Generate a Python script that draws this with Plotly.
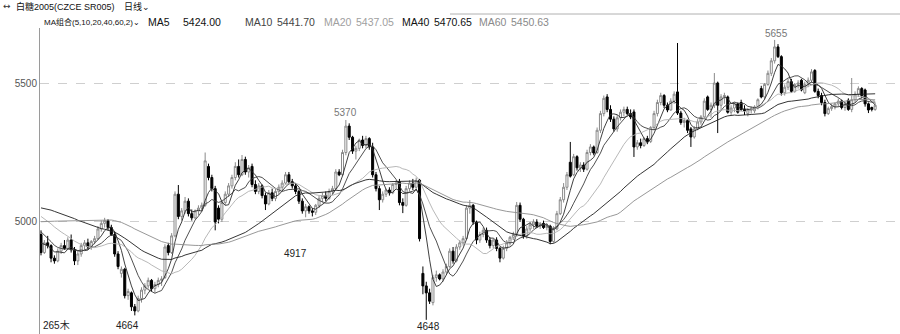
import plotly.graph_objects as go
import pandas as pd

# closes before the visible window (only used for the moving averages)
pre_close = [4850, 4860, 4845, 4870, 4880, 4875, 4890, 4900, 4885, 4870,
             4880, 4895, 4910, 4905, 4920, 4915, 4930, 4925, 4940, 4950,
             4980, 5000, 5020, 5010, 5040, 5060, 5050, 5075, 5090, 5085,
             5100, 5110, 5095, 5120, 5130, 5115, 5125, 5105, 5110, 5090,
             5100, 5085, 5070, 5090, 5080, 5095, 5075, 5060, 5080, 5070,
             5050, 5030, 5020, 5010, 4995, 4970, 4950, 4935, 4920, 4925]

opens = [4955, 4890, 4925, 4915, 4870, 4860, 4895, 4915, 4905, 4935,
         4900, 4860, 4885, 4915, 4925, 4910, 4930, 4940, 4975, 4995,
         5005, 4980, 4955, 4885, 4815, 4830, 4735, 4745, 4695, 4680,
         4725, 4755, 4770, 4790, 4760, 4775, 4790, 4800, 4915, 4890,
         4950, 5100, 5020, 5040, 5075, 5030, 5015, 5040, 5050, 5060,
         5200, 5160, 5120, 5050, 5010, 5070, 5100, 5130, 5160, 5200,
         5170, 5225, 5180, 5200, 5135, 5110, 5130, 5095, 5065, 5105,
         5085, 5110, 5125, 5140, 5170, 5145, 5130, 5110, 5075, 5040,
         5055, 5040, 5035, 5060, 5085, 5095, 5085, 5110, 5120, 5180,
         5170, 5250, 5345, 5305, 5255, 5265, 5295, 5275, 5300, 5270,
         5170, 5120, 5080, 5100, 5115, 5105, 5135, 5145, 5070, 5060,
         5120, 5140, 5125, 5150, 4815, 4770, 4745, 4710, 4800, 4810,
         4795, 4820, 4840, 4895, 4860, 4910, 4925, 4940, 5050, 5060,
         5000, 4935, 4955, 4970, 4935, 4915, 4935, 4905, 4870, 4905,
         4925, 4945, 4955, 5060, 5010, 4950, 4975, 4990, 5000, 4985,
         4995, 4980, 4985, 4930, 4975, 5030, 5080, 5125, 5215, 5170,
         5235, 5195, 5205, 5190, 5250, 5270, 5250, 5330, 5390, 5450,
         5405, 5370, 5335, 5375, 5395, 5405, 5390, 5396, 5270, 5285,
         5275, 5300, 5290, 5340, 5390, 5430, 5455, 5420, 5403, 5435,
         5468, 5392, 5358, 5365, 5335, 5306, 5335, 5360, 5378, 5450,
         5405, 5420, 5500, 5420, 5450, 5450, 5395, 5410, 5425, 5430,
         5405, 5390, 5405, 5400, 5414, 5480, 5450, 5495, 5535, 5580,
         5630, 5595, 5465, 5485, 5505, 5470, 5495, 5510, 5465, 5495,
         5510, 5545, 5470, 5455, 5430, 5390, 5408, 5415, 5425, 5435,
         5412, 5438, 5405, 5440, 5460, 5480, 5475, 5425, 5412, 5405]
highs = [4970, 4935, 4950, 4920, 4880, 4905, 4925, 4935, 4945, 4955,
         4910, 4895, 4925, 4935, 4940, 4935, 4950, 4985, 5005, 5015,
         5010, 4990, 4965, 4895, 4840, 4835, 4760, 4750, 4705, 4735,
         4765, 4780, 4800, 4795, 4785, 4800, 4805, 4920, 4925, 4960,
         5110, 5133, 5050, 5090, 5085, 5045, 5045, 5060, 5070, 5250,
         5210, 5170, 5130, 5060, 5080, 5110, 5140, 5170, 5215, 5225,
         5241, 5235, 5205, 5210, 5150, 5140, 5135, 5105, 5115, 5120,
         5120, 5135, 5150, 5180, 5180, 5155, 5140, 5115, 5085, 5065,
         5060, 5050, 5065, 5095, 5105, 5110, 5120, 5130, 5190, 5190,
         5260, 5367, 5355, 5310, 5275, 5300, 5310, 5310, 5305, 5285,
         5180, 5130, 5110, 5120, 5125, 5140, 5150, 5155, 5085, 5130,
         5150, 5155, 5160, 5155, 4840, 4785, 4760, 4810, 4825, 4815,
         4830, 4850, 4905, 4910, 4920, 4935, 4950, 5060, 5079, 5065,
         5005, 4965, 4980, 4980, 4945, 4940, 4945, 4910, 4915, 4935,
         4950, 4965, 5072, 5070, 5015, 4985, 5000, 5010, 5010, 5000,
         5005, 4995, 4990, 4985, 5040, 5090, 5140, 5180, 5288, 5245,
         5240, 5215, 5215, 5260, 5280, 5275, 5340, 5400, 5455, 5460,
         5420, 5380, 5385, 5405, 5415, 5415, 5405, 5405, 5295, 5300,
         5305, 5310, 5345, 5400, 5440, 5465, 5460, 5430, 5445, 5470,
         5644, 5400, 5375, 5370, 5342, 5345, 5370, 5385, 5445, 5455,
         5430, 5536, 5505, 5460, 5465, 5455, 5420, 5430, 5430, 5440,
         5420, 5410, 5415, 5420, 5445, 5490, 5500, 5545, 5590, 5655,
         5640, 5600, 5495, 5515, 5515, 5500, 5510, 5515, 5505, 5520,
         5550, 5550, 5480, 5465, 5440, 5415, 5425, 5430, 5445, 5440,
         5430, 5445, 5518, 5470, 5488, 5485, 5480, 5430, 5415, 5430]
lows = [4880, 4885, 4905, 4855, 4850, 4855, 4885, 4900, 4900, 4890,
        4845, 4845, 4875, 4900, 4900, 4900, 4920, 4935, 4965, 4980,
        4970, 4950, 4875, 4830, 4800, 4725, 4720, 4680, 4664, 4675,
        4710, 4740, 4760, 4750, 4745, 4765, 4770, 4795, 4880, 4885,
        4945, 5010, 5005, 5030, 5020, 5005, 5010, 5025, 5040, 5055,
        5150, 5110, 4970, 4995, 5000, 5060, 5090, 5120, 5150, 5160,
        5165, 5170, 5160, 5125, 5100, 5100, 5085, 5043, 5060, 5075,
        5075, 5100, 5115, 5135, 5135, 5120, 5100, 5065, 5030, 5017,
        5030, 5020, 5025, 5050, 5070, 5075, 5080, 5100, 5115, 5165,
        5165, 5240, 5295, 5245, 5225, 5255, 5265, 5265, 5260, 5160,
        5110, 5043, 5070, 5090, 5095, 5100, 5120, 5060, 5032, 5055,
        5110, 5115, 5120, 4930, 4740, 4648, 4705, 4700, 4785, 4790,
        4785, 4810, 4835, 4850, 4855, 4900, 4915, 4935, 5030, 4990,
        4920, 4925, 4945, 4925, 4905, 4905, 4895, 4855, 4865, 4895,
        4915, 4935, 4950, 5000, 4940, 4940, 4965, 4975, 4980, 4975,
        4975, 4970, 4920, 4925, 4970, 5025, 5070, 5115, 5160, 5165,
        5185, 5180, 5180, 5185, 5240, 5240, 5245, 5320, 5380, 5395,
        5360, 5325, 5325, 5365, 5380, 5385, 5370, 5234, 5260, 5265,
        5270, 5280, 5284, 5330, 5380, 5420, 5410, 5395, 5400, 5425,
        5385, 5350, 5340, 5320, 5270, 5300, 5330, 5350, 5370, 5400,
        5375, 5410, 5320, 5400, 5425, 5390, 5385, 5395, 5390, 5400,
        5385, 5380, 5390, 5392, 5405, 5445, 5440, 5490, 5525, 5570,
        5590, 5455, 5455, 5475, 5465, 5465, 5480, 5470, 5460, 5485,
        5500, 5465, 5445, 5420, 5380, 5385, 5400, 5405, 5415, 5405,
        5400, 5400, 5395, 5430, 5450, 5445, 5415, 5392, 5398, 5400]
closes = [4890, 4925, 4915, 4870, 4860, 4895, 4915, 4905, 4935, 4900,
          4860, 4885, 4915, 4925, 4910, 4930, 4940, 4975, 4995, 5005,
          4980, 4955, 4885, 4840, 4830, 4735, 4750, 4695, 4680, 4725,
          4755, 4770, 4790, 4760, 4775, 4790, 4795, 4910, 4890, 4950,
          5100, 5020, 5040, 5075, 5030, 5015, 5040, 5050, 5060, 5220,
          5160, 5120, 5000, 5010, 5070, 5100, 5130, 5160, 5200, 5170,
          5225, 5180, 5195, 5135, 5110, 5130, 5095, 5065, 5105, 5085,
          5110, 5125, 5140, 5170, 5145, 5130, 5110, 5075, 5040, 5055,
          5040, 5035, 5060, 5085, 5095, 5085, 5110, 5120, 5180, 5170,
          5250, 5345, 5305, 5255, 5265, 5295, 5275, 5300, 5270, 5170,
          5120, 5080, 5100, 5115, 5105, 5135, 5140, 5070, 5060, 5120,
          5140, 5125, 5150, 4940, 4770, 4745, 4715, 4800, 4810, 4795,
          4820, 4840, 4895, 4860, 4910, 4925, 4940, 5050, 5060, 5000,
          4935, 4955, 4970, 4935, 4915, 4935, 4905, 4870, 4905, 4925,
          4945, 4955, 5060, 5010, 4950, 4975, 4990, 5000, 4985, 4995,
          4980, 4985, 4930, 4975, 5030, 5080, 5125, 5170, 5165, 5235,
          5195, 5205, 5190, 5250, 5270, 5248, 5330, 5390, 5445, 5405,
          5370, 5335, 5375, 5395, 5405, 5390, 5378, 5270, 5285, 5275,
          5300, 5290, 5340, 5390, 5430, 5455, 5420, 5403, 5435, 5460,
          5392, 5358, 5365, 5330, 5306, 5335, 5360, 5378, 5435, 5405,
          5420, 5500, 5420, 5450, 5455, 5395, 5410, 5425, 5395, 5405,
          5400, 5405, 5410, 5414, 5440, 5450, 5495, 5535, 5580, 5630,
          5595, 5465, 5485, 5505, 5470, 5495, 5500, 5475, 5495, 5510,
          5540, 5470, 5455, 5430, 5390, 5408, 5415, 5425, 5435, 5412,
          5425, 5405, 5440, 5460, 5480, 5455, 5425, 5403, 5405, 5420]

ma_periods = [5, 10, 20, 40, 60]
ma_colors = ["#2a2a2a", "#3c3c3c", "#b0b0b0", "#1e1e1e", "#8c8c8c"]
ma_names = ["MA5", "MA10", "MA20", "MA40", "MA60"]
ma_values = ["5424.00", "5441.70", "5437.05", "5470.65", "5450.63"]
ma_label_colors = ["#111111", "#444444", "#a0a0a0", "#111111", "#8a8a8a"]
ma_name_x = [146, 243, 322, 400, 477]
ma_value_x = [181, 275, 354, 432, 509]

price_ticks = [5000, 5500]
extreme_labels = [("5655", 776, 33, "#777777"), ("5370", 345, 112, "#777777"),
                  ("4917", 295, 253, "#222222"), ("4664", 127, 325, "#222222"),
                  ("4648", 428, 326, "#222222"), ("265木", 56, 325, "#222222")]

n = len(closes)
xs = list(range(n))
all_close = pd.Series(pre_close + closes, dtype=float)

W, H = 900, 334
L, T = 40, 28
STEP = 3.35          # pixels between candles
FIRST = 41           # pixel of the first candle
FONT = "Liberation Sans, Noto Sans CJK SC"


def px(xp):
    return (xp - L) / (W - L)


def py(yp):
    return (H - yp) / (H - T)


fig = go.Figure()
fig.add_trace(go.Candlestick(
    x=xs, open=opens, high=highs, low=lows, close=closes,
    increasing=dict(line=dict(color="#8a8a8a", width=1), fillcolor="#ffffff"),
    decreasing=dict(line=dict(color="#000000", width=1), fillcolor="#000000"),
    whiskerwidth=0, showlegend=False, hoverinfo="skip"))

for p, c in zip(ma_periods, ma_colors):
    vals = all_close.rolling(p).mean().iloc[len(pre_close):].to_numpy()
    fig.add_trace(go.Scatter(x=xs, y=vals, mode="lines",
                             line=dict(color=c, width=0.9), showlegend=False,
                             hoverinfo="skip"))

ann = []


def txt(t, xp, yp, size, color, anchor="left", family=FONT):
    ann.append(dict(x=px(xp), y=py(yp), xref="paper", yref="paper", text=t,
                    showarrow=False, xanchor=anchor, yanchor="middle",
                    font=dict(family=family, size=size, color=color)))


txt("↔", 1, 6, 9, "#333", family="DejaVu Sans")
txt("白糖2005(CZCE SR005)", 14, 6, 9, "#111")
txt("日线⌄", 122, 6, 9, "#111")
txt("MA组合(5,10,20,40,60,2)⌄", 42, 22, 8, "#111")
for nm, v, c, x1, x2 in zip(ma_names, ma_values, ma_label_colors, ma_name_x, ma_value_x):
    txt(nm, x1, 22, 10.5, c)
    txt(v, x2, 22, 10.5, c)
for t, xp, yp, c in extreme_labels:
    txt(t, xp, yp, 10, c, anchor="center")

shapes = [dict(type="line", xref="paper", yref="paper", x0=px(450), x1=px(900),
               y0=py(14), y1=py(14), line=dict(color="#b0b0b0", width=1))]

fig.update_layout(
    width=W, height=H, margin=dict(l=L, r=0, t=T, b=0),
    paper_bgcolor="white", plot_bgcolor="white",
    annotations=ann, shapes=shapes,
    xaxis=dict(range=[-(FIRST - L) / STEP, (W - FIRST) / STEP], visible=False,
               rangeslider=dict(visible=False), fixedrange=True),
    yaxis=dict(range=[4597, 5698], tickvals=price_ticks,
               ticktext=[str(v) for v in price_ticks], showgrid=True,
               gridcolor="#cfcfcf", griddash="dash", gridwidth=1,
               showline=True, linecolor="#9a9a9a", linewidth=1, zeroline=False,
               ticks="", tickfont=dict(family=FONT, size=10, color="#555"),
               fixedrange=True),
    boxgap=0.15,
)

fig.write_html("out.html")
